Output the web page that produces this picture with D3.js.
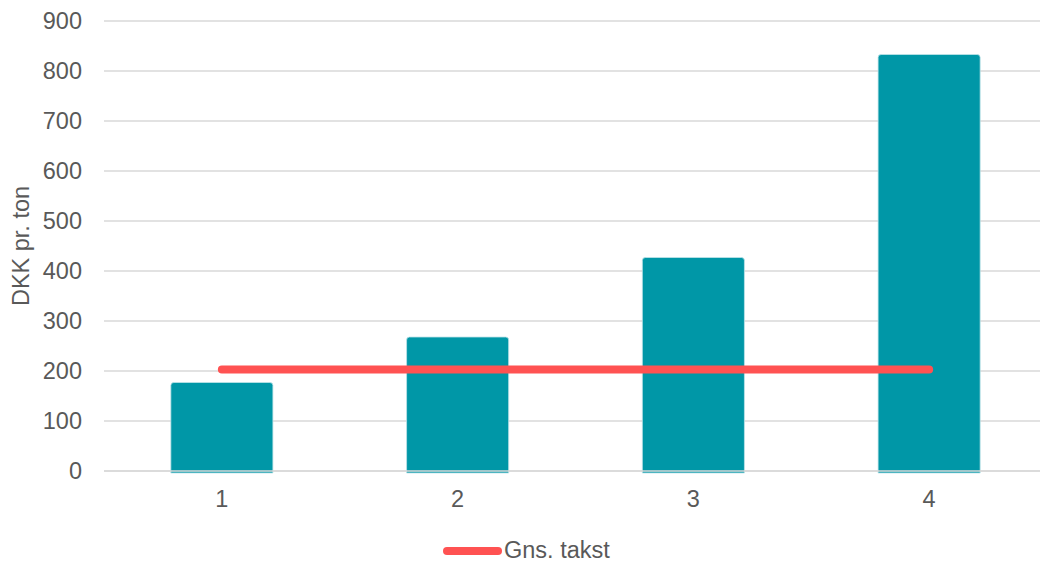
<!DOCTYPE html>
<html>
<head>
<meta charset="utf-8">
<script src="https://cdn.jsdelivr.net/npm/d3@7"></script>
<style>
  html, body { margin: 0; padding: 0; background: #fff; }
  svg { display: block; font-family: "Liberation Sans", Arial, sans-serif; }
</style>
</head>
<body>
<svg id="chart" width="1040" height="563"></svg>
<script>
const categories = ["1", "2", "3", "4"];
const barValues = [177, 268, 427, 833];
const avgValues = [203, 203, 203, 203];
const yTicks = [0, 100, 200, 300, 400, 500, 600, 700, 800, 900];
const yLabel = "DKK pr. ton";
const legendLabel = "Gns. takst";

const svg = d3.select("#chart");
const W = 1040, H = 563;
const margin = { left: 104, right: -7, top: 21, bottom: 92 };
const textColor = "#595959";
const fontSize = 23.5;

const x = d3.scaleBand().domain(categories)
  .range([margin.left, W - margin.right]).paddingInner(0.567).paddingOuter(0.2835);
const y = d3.scaleLinear().domain([0, 900]).range([H - margin.bottom, margin.top]);

// gridlines
svg.append("g").selectAll("line").data(yTicks).join("line")
  .attr("x1", margin.left).attr("x2", W)
  .attr("y1", d => y(d)).attr("y2", d => y(d))
  .attr("stroke", "#d9d9d9").attr("stroke-width", 1.5);

// bars with rounded top corners
const r = 3;
svg.append("g").selectAll("path").data(barValues).join("path")
  .attr("d", (d, i) => {
    const x0 = x(categories[i]), x1 = x0 + x.bandwidth();
    const yt = y(d), yb = y(0) + 2;
    return `M${x0},${yb} L${x0},${yt + r} Q${x0},${yt} ${x0 + r},${yt} L${x1 - r},${yt} Q${x1},${yt} ${x1},${yt + r} L${x1},${yb} Z`;
  })
  .attr("fill", "#0097a7")
  .attr("stroke", "#bfe3e8").attr("stroke-width", 0.8);

// zero line on top
svg.append("line")
  .attr("x1", margin.left).attr("x2", W)
  .attr("y1", y(0)).attr("y2", y(0))
  .attr("stroke", "#d9d9d9").attr("stroke-width", 1.5);

// average line
const line = d3.line()
  .x((d, i) => x(categories[i]) + x.bandwidth() / 2)
  .y(d => y(d));
svg.append("path").datum(avgValues)
  .attr("d", line)
  .attr("fill", "none")
  .attr("stroke", "#ff5252").attr("stroke-width", 8)
  .attr("stroke-linecap", "round");

// y axis labels
svg.append("g").selectAll("text").data(yTicks).join("text")
  .attr("x", 82).attr("y", d => y(d))
  .attr("dy", "0.35em")
  .attr("text-anchor", "end")
  .attr("fill", textColor).attr("font-size", fontSize)
  .text(d => d);

// x axis labels
svg.append("g").selectAll("text").data(categories).join("text")
  .attr("x", d => x(d) + x.bandwidth() / 2)
  .attr("y", 507)
  .attr("text-anchor", "middle")
  .attr("fill", textColor).attr("font-size", fontSize)
  .text(d => d);

// y axis title
svg.append("text")
  .attr("transform", `translate(29,${(y(0) + y(900)) / 2}) rotate(-90)`)
  .attr("text-anchor", "middle")
  .attr("fill", textColor).attr("font-size", fontSize)
  .text(yLabel);

// legend
const lg = svg.append("g");
lg.append("line")
  .attr("x1", 447).attr("x2", 498).attr("y1", 551).attr("y2", 551)
  .attr("stroke", "#ff5252").attr("stroke-width", 8).attr("stroke-linecap", "round");
lg.append("text")
  .attr("x", 504).attr("y", 558)
  .attr("fill", textColor).attr("font-size", fontSize)
  .text(legendLabel);
</script>
</body>
</html>
